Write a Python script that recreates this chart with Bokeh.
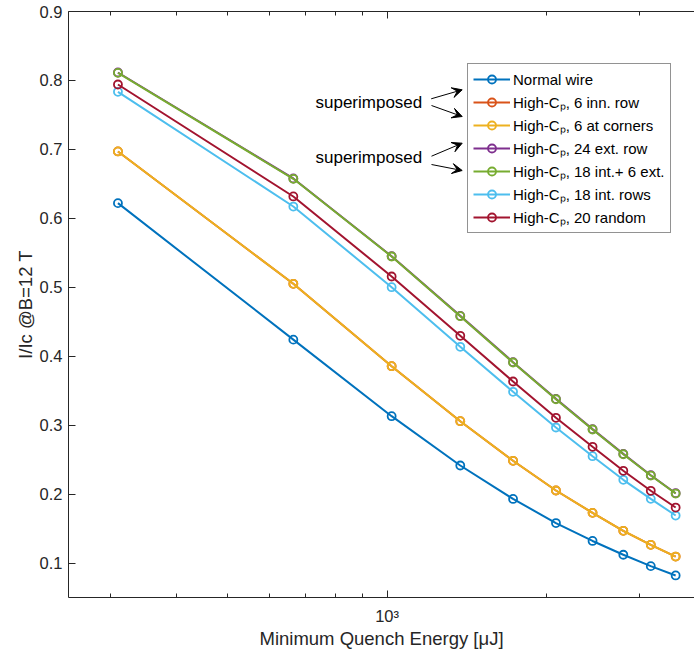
from bokeh.plotting import figure
from bokeh.models import (Range1d, FixedTicker, LogAxis, Legend, LegendItem,
                          Label, Arrow, VeeHead)
from bokeh.embed import file_html
from bokeh.resources import INLINE

# ---- data ----
energy = [310, 665, 1020, 1375, 1730, 2085, 2445, 2795, 3150, 3510]

normal_wire  = [0.622, 0.424, 0.313, 0.2415, 0.193, 0.158, 0.132, 0.112, 0.0955, 0.082]
inn_row_6    = [0.697, 0.505, 0.3855, 0.3057, 0.2483, 0.2052, 0.1728, 0.1467, 0.1264, 0.1094]
corners_6    = [0.697, 0.505, 0.3855, 0.3057, 0.2483, 0.2052, 0.1728, 0.1467, 0.1264, 0.1094]
ext_row_24   = [0.8115, 0.6578, 0.5451, 0.4585, 0.3914, 0.3381, 0.2942, 0.2583, 0.2274, 0.2013]
int18_ext6   = [0.811, 0.6573, 0.5446, 0.458, 0.3909, 0.3376, 0.2937, 0.2578, 0.2269, 0.2008]
int_rows_18  = [0.7835, 0.6171, 0.5001, 0.4136, 0.3484, 0.2966, 0.255, 0.2207, 0.1931, 0.1689]
random_20    = [0.7941, 0.6317, 0.5156, 0.4296, 0.3633, 0.3106, 0.2686, 0.2338, 0.2048, 0.1805]

series_names = ["Normal wire",
                "High-C\u209a, 6 inn. row",
                "High-C\u209a, 6 at corners",
                "High-C\u209a, 24 ext. row",
                "High-C\u209a, 18 int.+ 6 ext.",
                "High-C\u209a, 18 int. rows",
                "High-C\u209a, 20 random"]
series_values = [normal_wire, inn_row_6, corners_6, ext_row_24, int18_ext6, int_rows_18, random_20]
series_colors = ["#0072BD", "#D95319", "#EDB120", "#7E2F8E", "#77AC30", "#4DBEEE", "#A2142F"]

x_minor_ticks = [300, 400, 500, 600, 700, 800, 900, 2000, 3000]
x_major_ticks = [1000]
y_ticks = [0.1, 0.2, 0.3, 0.4, 0.5, 0.6, 0.7, 0.8, 0.9]

FONT = "Liberation Sans"
AX = "#262626"

p = figure(width=694, height=653, x_axis_type="log",
           x_range=Range1d(250, 3810), y_range=Range1d(0.05, 0.9),
           output_backend="svg", toolbar_location=None,
           min_border_left=68, min_border_right=0, min_border_top=11,
           min_border_bottom=56)
p.outline_line_color = None
p.grid.visible = False
p.background_fill_color = "white"

# x axis (bottom)
xa = p.xaxis[0]
xa.ticker = FixedTicker(ticks=x_major_ticks, minor_ticks=x_minor_ticks)
xa.major_label_overrides = {1000: "10\u00b3"}
xa.axis_label = "Minimum Quench Energy [\u03bcJ]"

# top axis (ticks only)
top = LogAxis(ticker=FixedTicker(ticks=x_major_ticks, minor_ticks=x_minor_ticks),
              major_label_text_font_size="1px", major_label_text_alpha=0,
              major_label_standoff=0)
p.add_layout(top, "above")

ya = p.yaxis[0]
ya.ticker = FixedTicker(ticks=y_ticks)
ya.axis_label = "I/Ic @B=12 T"

for ax in [xa, top, ya]:
    ax.axis_line_color = AX
    ax.axis_line_width = 1
    ax.major_tick_line_color = AX
    ax.major_tick_in = 7
    ax.major_tick_out = 0
    ax.minor_tick_in = 4
    ax.minor_tick_out = 0
    ax.major_label_text_color = AX
    ax.major_label_text_font = FONT
    ax.axis_label_text_font = FONT
    ax.axis_label_text_font_style = "normal"
    ax.axis_label_text_color = AX
xa.minor_tick_line_color = AX
top.minor_tick_line_color = AX
ya.minor_tick_line_color = None
for ax in [xa, ya]:
    ax.major_label_text_font_size = "16.5px"
    ax.axis_label_text_font_size = "18.5px"
xa.major_label_standoff = 9
xa.axis_label_standoff = 0
ya.major_label_standoff = 6
ya.axis_label_standoff = 1

items = []
for name, vals, col in zip(series_names, series_values, series_colors):
    r1 = p.line(energy, vals, line_color=col, line_width=2)
    r2 = p.scatter(energy, vals, marker="circle", size=8, line_color=col,
                   line_width=1.8, fill_color=None)
    items.append(LegendItem(label=name, renderers=[r1, r2]))

legend = Legend(items=items, location=(399, 364), margin=0,
                border_line_color=AX, border_line_width=1,
                background_fill_color="white", background_fill_alpha=1,
                label_text_font=FONT, label_text_font_size="15px",
                label_text_color="black",
                glyph_width=37, glyph_height=20, label_height=20,
                spacing=3, padding=5, label_standoff=3)
p.add_layout(legend)

# annotations
for ty in [495.3, 439.7]:
    p.add_layout(Label(x=247, y=ty, x_units="screen", y_units="screen",
                       text="superimposed", text_baseline="middle",
                       text_font=FONT, text_font_size="17px",
                       text_color="black"))

arrows = [(362.7, 498.7, 393.7, 507.7),
          (363, 492, 393.7, 481),
          (363, 441.3, 393.7, 454.3),
          (363, 433, 393.7, 427)]
for xs, ys, xe, ye in arrows:
    p.add_layout(Arrow(end=VeeHead(size=10, fill_color="black", line_color="black",
                                   line_width=1),
                       x_start=xs, y_start=ys, x_end=xe, y_end=ye,
                       start_units="screen", end_units="screen",
                       line_color="black", line_width=1))

open("out.html", "w").write(file_html(p, INLINE))
